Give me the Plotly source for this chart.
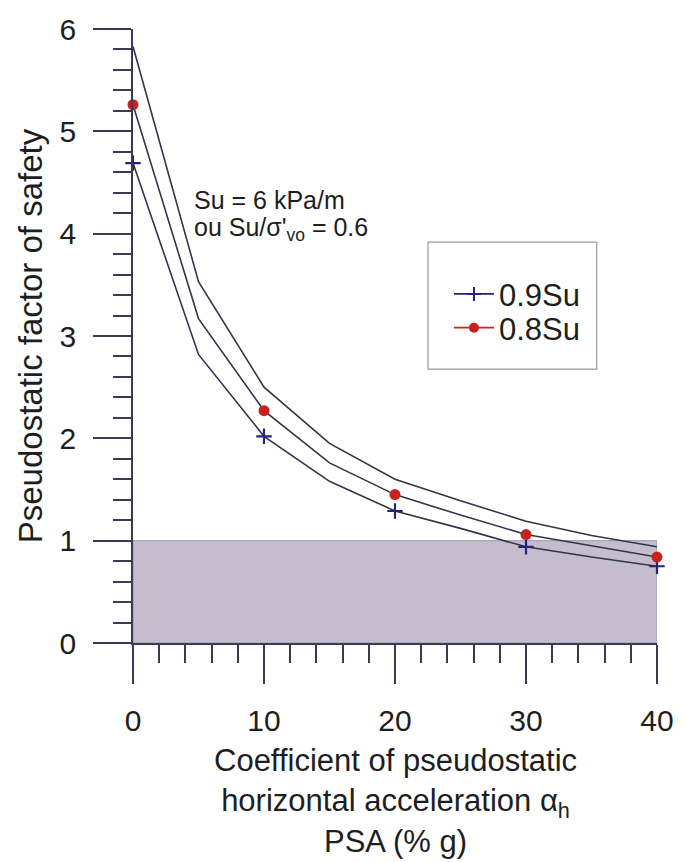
import plotly.graph_objects as go

# ---- data ----
psa = [0, 5, 10, 15, 20, 25, 30, 35, 40]
fs_upper = [5.83, 3.53, 2.50, 1.95, 1.60, 1.39, 1.19, 1.05, 0.94]
fs_08su = [5.26, 3.17, 2.27, 1.76, 1.45, 1.25, 1.06, 0.95, 0.84]
fs_09su = [4.69, 2.82, 2.02, 1.58, 1.29, 1.12, 0.94, 0.84, 0.75]
marker_psa = [0, 10, 20, 30, 40]
series_names = ["0.9Su", "0.8Su"]
x_ticks = [0, 10, 20, 30, 40]
y_ticks = [0, 1, 2, 3, 4, 5, 6]
limit_fs = 1.0

FONT = "Liberation Sans, Arial, sans-serif"
TXT = "#1e1e1e"
LINE_C = "#34344a"
AXIS_C = "#3a3a55"
BLUE = "#23237a"
RED = "#c8221e"

def pick(series, xs):
    return [series[psa.index(x)] for x in xs]

fig = go.Figure()

# shaded zone FS < 1
fig.add_shape(type="rect", xref="x", yref="y", x0=psa[0], x1=psa[-1], y0=0, y1=limit_fs,
              fillcolor="rgb(197,188,206)", line=dict(color="rgb(160,150,172)", width=1),
              layer="below")

# curves
for ys in (fs_upper, fs_08su, fs_09su):
    fig.add_trace(go.Scatter(x=psa, y=ys, mode="lines", line=dict(color=LINE_C, width=1.6),
                             showlegend=False, hoverinfo="skip", cliponaxis=False))

# markers
fig.add_trace(go.Scatter(x=marker_psa, y=pick(fs_09su, marker_psa), mode="markers",
                         marker=dict(symbol="cross-thin", size=11, line=dict(color=BLUE, width=2.2)),
                         showlegend=False, cliponaxis=False))
fig.add_trace(go.Scatter(x=marker_psa, y=pick(fs_08su, marker_psa), mode="markers",
                         marker=dict(symbol="circle", size=11, color=RED),
                         showlegend=False, cliponaxis=False))

# legend entries (one legend per entry for precise spacing)
fig.add_trace(go.Scatter(x=[None], y=[None], mode="lines+markers", name=series_names[0],
                         legend="legend",
                         line=dict(color=BLUE, width=1.6),
                         marker=dict(symbol="cross-thin", size=10, line=dict(color=BLUE, width=2))))
fig.add_trace(go.Scatter(x=[None], y=[None], mode="lines+markers", name=series_names[1],
                         legend="legend2",
                         line=dict(color=RED, width=1.6),
                         marker=dict(symbol="circle", size=10, color=RED)))

# legend frame
fig.add_shape(type="rect", xref="paper", yref="paper", x0=0.563, x1=0.885, y0=0.446, y1=0.653,
              line=dict(color="#9a9aa6", width=1.2), fillcolor="rgba(0,0,0,0)")

# in-plot note
fig.add_annotation(xref="x", yref="y", x=4.5, y=4.33, xanchor="left", yanchor="middle",
                   showarrow=False, text="Su = 6 kPa/m",
                   font=dict(family=FONT, size=25, color=TXT))
fig.add_annotation(xref="x", yref="y", x=4.5, y=4.05, xanchor="left", yanchor="middle",
                   showarrow=False, text="ou Su/σ'<sub>vo</sub> = 0.6",
                   font=dict(family=FONT, size=25, color=TXT))

# axis titles
fig.add_annotation(xref="paper", yref="paper", x=0.5, y=-0.16, xanchor="center", yanchor="top",
                   showarrow=False,
                   text="Coefficient of pseudostatic<br>horizontal acceleration α<sub>h</sub><br>PSA (% g)",
                   font=dict(family=FONT, size=31, color=TXT))
fig.add_annotation(xref="paper", yref="paper", x=-0.196, y=0.5, xanchor="center", yanchor="middle",
                   showarrow=False, textangle=-90, text="Pseudostatic factor of safety",
                   font=dict(family=FONT, size=33, color=TXT))

leg_common = dict(xanchor="left", yanchor="middle", bgcolor="rgba(0,0,0,0)", borderwidth=0,
                  font=dict(family=FONT, size=31, color=TXT), itemwidth=40)
fig.update_layout(
    width=686, height=862,
    margin=dict(l=133, r=22, t=21, b=219),
    paper_bgcolor="white", plot_bgcolor="white",
    font=dict(family=FONT, color=TXT),
    showlegend=True,
    legend=dict(x=0.603, y=0.568, **leg_common),
    legend2=dict(x=0.603, y=0.513, **leg_common),
)

fig.update_xaxes(range=[0, 40], tickvals=x_ticks, ticks="outside", ticklen=39, tickwidth=1.6,
                 tickcolor=AXIS_C, showline=True, linecolor=AXIS_C, linewidth=1.6,
                 showgrid=False, zeroline=False, ticklabelstandoff=11,
                 minor=dict(dtick=2, ticks="outside", ticklen=18, tickwidth=1.6, tickcolor=AXIS_C),
                 tickfont=dict(family=FONT, size=30, color=TXT))
fig.update_yaxes(range=[0, 6], tickvals=y_ticks, ticks="outside", ticklen=38, tickwidth=1.6,
                 tickcolor=AXIS_C, showline=True, linecolor=AXIS_C, linewidth=1.6,
                 showgrid=False, zeroline=False, ticklabelstandoff=11,
                 minor=dict(dtick=0.2, ticks="outside", ticklen=18, tickwidth=1.6, tickcolor=AXIS_C),
                 tickfont=dict(family=FONT, size=30, color=TXT))

fig.write_html("out.html")
